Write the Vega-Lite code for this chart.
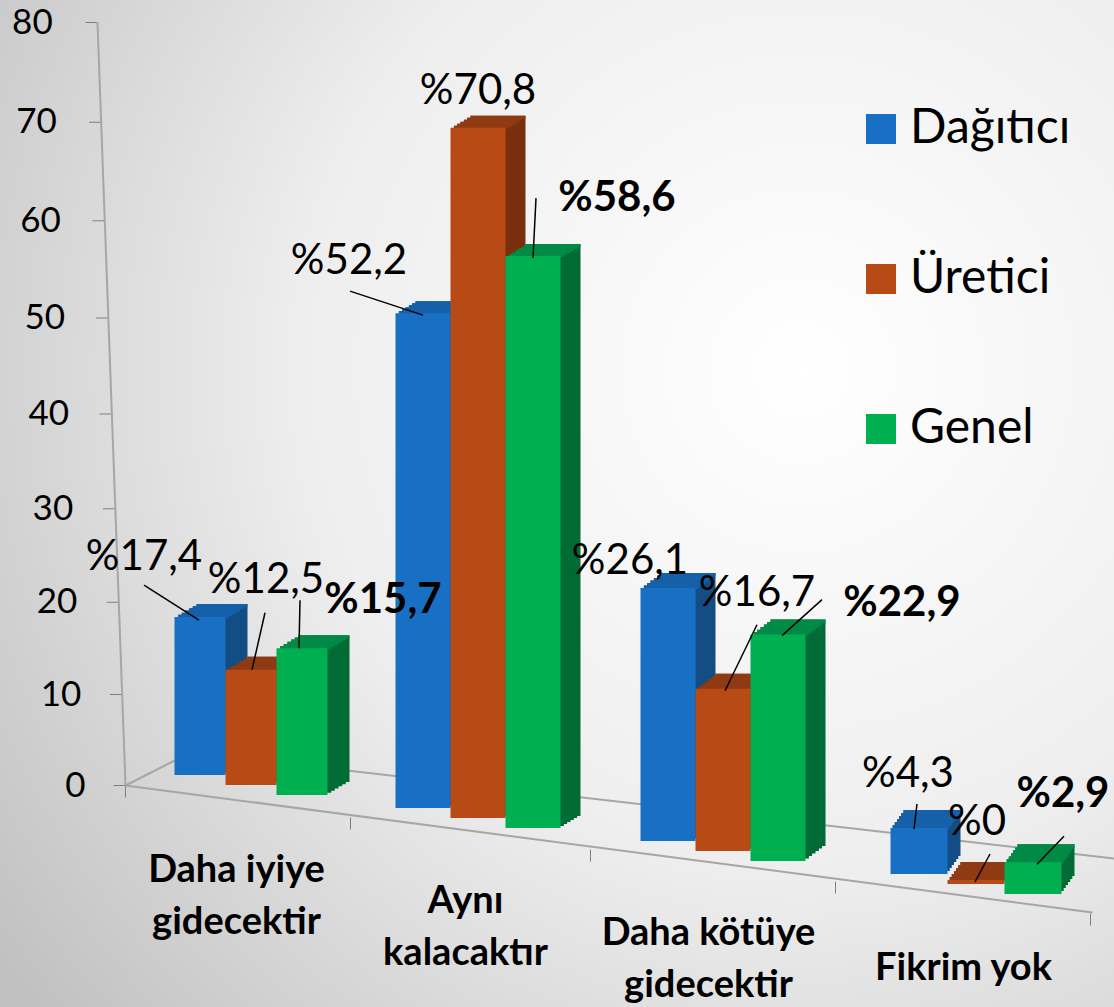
{
"$schema":"https://vega.github.io/schema/vega-lite/v6.json",
"width":1114,"height":1007,"autosize":"none","padding":0,
"background":"#d8d8d8",
"config":{"font":"Lato","view":{"stroke":null,"fill":{"gradient":"radial","x1":0.72,"y1":0.38,"r1":0,"x2":0.72,"y2":0.38,"r2":0.9,"stops":[{"offset":0,"color":"#ffffff"},{"offset":0.5,"color":"#eeeeee"},{"offset":1,"color":"#c0c0c0"}]}}},
"params":[{"name":"o","expr":"{'%17,4':[-56,-52,-56,-24,-1,11,8],'%12,5':[15,-86,14,-53,1,4,4],'%15,7':[81,-45,-2,-45,-3,3,3],'%52,2':[-74,-49,-73,-19,0,5,3],'%70,8':[0,-52,0,0,0,0,-15],'%58,6':[84,-71,3,-71,0,-11,-13],'%26,1':[-38,-31,0,0,0,0,-4],'%16,7':[34,-99,34,-67,2,-1,-3],'%22,9':[124,-40,44,-43,4,-7,-8],'%4,3':[-11,-59,-2,-29,-5,-4,-5],'%0':[1,-62,14,-30,-1,-2,-4],'%2,9':[30,-72,31,-30,4,-2,-4]}"}],
"data":{"values":[
{"kategori":"Daha iyiye gidecektir","seri":"Dağıtıcı","deger":17.4,"etiket":"%17,4"},
{"kategori":"Daha iyiye gidecektir","seri":"Üretici","deger":12.5,"etiket":"%12,5"},
{"kategori":"Daha iyiye gidecektir","seri":"Genel","deger":15.7,"etiket":"%15,7"},
{"kategori":"Aynı kalacaktır","seri":"Dağıtıcı","deger":52.2,"etiket":"%52,2"},
{"kategori":"Aynı kalacaktır","seri":"Üretici","deger":70.8,"etiket":"%70,8"},
{"kategori":"Aynı kalacaktır","seri":"Genel","deger":58.6,"etiket":"%58,6"},
{"kategori":"Daha kötüye gidecektir","seri":"Dağıtıcı","deger":26.1,"etiket":"%26,1"},
{"kategori":"Daha kötüye gidecektir","seri":"Üretici","deger":16.7,"etiket":"%16,7"},
{"kategori":"Daha kötüye gidecektir","seri":"Genel","deger":22.9,"etiket":"%22,9"},
{"kategori":"Fikrim yok","seri":"Dağıtıcı","deger":4.3,"etiket":"%4,3"},
{"kategori":"Fikrim yok","seri":"Üretici","deger":0,"etiket":"%0"},
{"kategori":"Fikrim yok","seri":"Genel","deger":2.9,"etiket":"%2,9"}
]},
"transform":[
{"calculate":"indexof(['Dağıtıcı','Üretici','Genel'],datum.seri)","as":"si"},
{"calculate":"indexof(['Daha iyiye gidecektir','Aynı kalacaktır','Daha kötüye gidecektir','Fikrim yok'],datum.kategori)","as":"ci"},
{"calculate":"datum.ci*33+datum.si*10-10","as":"b"},
{"calculate":"[51,55,55,57][datum.ci]","as":"w"},
{"calculate":"[0,-15,-12,-1][datum.ci]+(datum.si-1)*datum.w","as":"sx"},
{"calculate":"[22,20,20,13][datum.ci]","as":"ddx"},
{"calculate":"[13,12,15,18][datum.ci]","as":"ddy"},
{"calculate":"datum.si==0?'#134d84':datum.si==1?'#7a2f0e':'#006b35'","as":"koyu"},
{"calculate":"datum.si==0?'#1560a8':datum.si==1?'#8f3a12':'#008a45'","as":"tepe"}
],
"encoding":{
"x":{"field":"kategori","type":"nominal","sort":["Daha iyiye gidecektir","Aynı kalacaktır","Daha kötüye gidecektir","Fikrim yok"],"title":null,
"scale":{"range":[130,1098],"paddingInner":0.34,"paddingOuter":0.17},
"axis":{"orient":"bottom","offset":-222,"labelAngle":0,"tickBand":"extent","tickSize":12,"tickColor":"#7f7f7f","domainColor":"#a6a6a6","domainWidth":2,"grid":true,"gridColor":"#a6a6a6","gridWidth":2,"labelFontSize":38,"labelFontWeight":"bold","labelColor":"#000000","labelPadding":54,"labelLimit":400,"labelOverlap":false,"labelLineHeight":52,"labelBaseline":"top",
"labelExpr":"{'Daha iyiye gidecektir':['Daha iyiye','gidecektir'],'Aynı kalacaktır':['Aynı','kalacaktır'],'Daha kötüye gidecektir':['Daha kötüye','gidecektir'],'Fikrim yok':['Fikrim yok']}[datum.label]",
"encoding":{
"domain":{"y2":{"value":127},"x":{"value":125},"x2":{"value":1092}},
"grid":{"x":{"value":{"expr":"datum.index==0?125:190"}},"x2":{"value":{"expr":"datum.index==0?190:1114"}},"y":{"value":{"expr":"datum.index==0?0:-33"}},"y2":{"value":{"expr":"datum.index==0?-33:73"}},"strokeOpacity":{"value":{"expr":"(datum.index==0||abs(datum.index-1/3)<0.01)?1:0"}}},
"ticks":{"x":{"value":{"expr":"[125,350,590,835,1090][datum.index<0?4:round(datum.index*3)]"}},"y":{"value":{"expr":"(datum.index<0?4:datum.index*3)*32"}},"y2":{"value":{"expr":"(datum.index<0?4:datum.index*3)*32+12"}}},
"labels":{"dy":{"value":{"expr":"[0,31,63,98][round(datum.index*3)]"}},"dx":{"value":{"expr":"[-15,-28,-27,-14][round(datum.index*3)]"}}}
}}},
"y":{"field":"deger","type":"quantitative","title":null,"stack":null,
"scale":{"domain":[0,80],"range":[785,22],"nice":false},
"axis":{"orient":"left","offset":-125,"values":[0,10,20,30,40,50,60,70,80],"grid":false,"tickSize":12,"tickColor":"#7f7f7f","domainColor":"#a6a6a6","domainWidth":2,"labelFontSize":35,"labelColor":"#000000","labelPadding":28,"labelOverlap":false,"labelFlush":false,
"encoding":{
"domain":{"x2":{"value":-28}},
"ticks":{"x":{"value":{"expr":"-datum.value*0.35"}},"x2":{"value":{"expr":"-datum.value*0.35-12"}},"y":{"value":{"expr":"scale('y',datum.value)+datum.value*(80-datum.value)*0.00625"}}},
"labels":{"dx":{"value":{"expr":"-datum.value*0.41"}},"dy":{"value":{"expr":"datum.value*(80-datum.value)*0.00625"}}}
}}}
},
"layer":[
{"mark":{"type":"bar","fill":{"expr":"datum.koyu"},"width":{"expr":"datum.w"},"xOffset":{"expr":"datum.sx+datum.ddx"},"yOffset":{"expr":"datum.b+o[datum.etiket][6]-datum.ddy"},"y2Offset":{"expr":"datum.b-datum.ddy"}},"encoding":{"y2":{"datum":0}}},
{"mark":{"type":"bar","fill":{"expr":"datum.koyu"},"width":{"expr":"datum.w"},"xOffset":{"expr":"datum.sx+datum.ddx*0.83"},"yOffset":{"expr":"datum.b+o[datum.etiket][6]-datum.ddy*0.83"},"y2Offset":{"expr":"datum.b-datum.ddy*0.83"}},"encoding":{"y2":{"datum":0}}},
{"mark":{"type":"bar","fill":{"expr":"datum.koyu"},"width":{"expr":"datum.w"},"xOffset":{"expr":"datum.sx+datum.ddx*0.67"},"yOffset":{"expr":"datum.b+o[datum.etiket][6]-datum.ddy*0.67"},"y2Offset":{"expr":"datum.b-datum.ddy*0.67"}},"encoding":{"y2":{"datum":0}}},
{"mark":{"type":"bar","fill":{"expr":"datum.koyu"},"width":{"expr":"datum.w"},"xOffset":{"expr":"datum.sx+datum.ddx*0.5"},"yOffset":{"expr":"datum.b+o[datum.etiket][6]-datum.ddy*0.5"},"y2Offset":{"expr":"datum.b-datum.ddy*0.5"}},"encoding":{"y2":{"datum":0}}},
{"mark":{"type":"bar","fill":{"expr":"datum.koyu"},"width":{"expr":"datum.w"},"xOffset":{"expr":"datum.sx+datum.ddx*0.33"},"yOffset":{"expr":"datum.b+o[datum.etiket][6]-datum.ddy*0.33"},"y2Offset":{"expr":"datum.b-datum.ddy*0.33"}},"encoding":{"y2":{"datum":0}}},
{"mark":{"type":"bar","fill":{"expr":"datum.koyu"},"width":{"expr":"datum.w"},"xOffset":{"expr":"datum.sx+datum.ddx*0.17"},"yOffset":{"expr":"datum.b+o[datum.etiket][6]-datum.ddy*0.17"},"y2Offset":{"expr":"datum.b-datum.ddy*0.17"}},"encoding":{"y2":{"datum":0}}},
{"mark":{"type":"bar","fill":{"expr":"datum.tepe"},"width":{"expr":"datum.w"},"xOffset":{"expr":"datum.sx+datum.ddx"},"yOffset":{"expr":"datum.b+o[datum.etiket][6]-datum.ddy"},"y2Offset":{"expr":"datum.b+o[datum.etiket][6]-datum.ddy*0.83+1"}},"encoding":{"y2":{"field":"deger"}}},
{"mark":{"type":"bar","fill":{"expr":"datum.tepe"},"width":{"expr":"datum.w"},"xOffset":{"expr":"datum.sx+datum.ddx*0.83"},"yOffset":{"expr":"datum.b+o[datum.etiket][6]-datum.ddy*0.83"},"y2Offset":{"expr":"datum.b+o[datum.etiket][6]-datum.ddy*0.67+1"}},"encoding":{"y2":{"field":"deger"}}},
{"mark":{"type":"bar","fill":{"expr":"datum.tepe"},"width":{"expr":"datum.w"},"xOffset":{"expr":"datum.sx+datum.ddx*0.67"},"yOffset":{"expr":"datum.b+o[datum.etiket][6]-datum.ddy*0.67"},"y2Offset":{"expr":"datum.b+o[datum.etiket][6]-datum.ddy*0.5+1"}},"encoding":{"y2":{"field":"deger"}}},
{"mark":{"type":"bar","fill":{"expr":"datum.tepe"},"width":{"expr":"datum.w"},"xOffset":{"expr":"datum.sx+datum.ddx*0.5"},"yOffset":{"expr":"datum.b+o[datum.etiket][6]-datum.ddy*0.5"},"y2Offset":{"expr":"datum.b+o[datum.etiket][6]-datum.ddy*0.33+1"}},"encoding":{"y2":{"field":"deger"}}},
{"mark":{"type":"bar","fill":{"expr":"datum.tepe"},"width":{"expr":"datum.w"},"xOffset":{"expr":"datum.sx+datum.ddx*0.33"},"yOffset":{"expr":"datum.b+o[datum.etiket][6]-datum.ddy*0.33"},"y2Offset":{"expr":"datum.b+o[datum.etiket][6]-datum.ddy*0.17+1"}},"encoding":{"y2":{"field":"deger"}}},
{"mark":{"type":"bar","fill":{"expr":"datum.tepe"},"width":{"expr":"datum.w"},"xOffset":{"expr":"datum.sx+datum.ddx*0.17"},"yOffset":{"expr":"datum.b+o[datum.etiket][6]-datum.ddy*0.17"},"y2Offset":{"expr":"datum.b+o[datum.etiket][6]+1"}},"encoding":{"y2":{"field":"deger"}}},
{"mark":{"type":"bar","width":{"expr":"datum.w"},"xOffset":{"expr":"datum.sx"},"yOffset":{"expr":"datum.b+o[datum.etiket][6]"},"y2Offset":{"expr":"datum.b"}},"encoding":{"y2":{"datum":0},
"color":{"field":"seri","type":"nominal","sort":["Dağıtıcı","Üretici","Genel"],"scale":{"domain":["Dağıtıcı","Üretici","Genel"],"range":["#1870c5","#b84a16","#00b050"]},
"legend":{"title":null,"orient":"none","legendX":857,"legendY":105,"symbolType":"square","symbolSize":900,"symbolStrokeWidth":0,"symbolOpacity":1,"labelFontSize":48,"labelColor":"#000000","labelOffset":5,"rowPadding":102,"labelLimit":300}}}},
{"transform":[{"filter":"datum.etiket!='%70,8' && datum.etiket!='%26,1'"}],
"mark":{"type":"rule","color":"#000000","strokeWidth":1.5,"xOffset":{"expr":"datum.sx+o[datum.etiket][2]"},"x2Offset":{"expr":"datum.sx+o[datum.etiket][4]"},"yOffset":{"expr":"datum.b+o[datum.etiket][3]"},"y2Offset":{"expr":"datum.b+o[datum.etiket][5]"}},
"encoding":{"x2":{"field":"kategori"},"y2":{"field":"deger"}}},
{"mark":{"type":"text","fontSize":42,"color":"#000000","baseline":"middle","align":"center","fontWeight":{"expr":"datum.si==2?'bold':'normal'"},"dx":{"expr":"datum.sx+o[datum.etiket][0]"},"dy":{"expr":"datum.b+o[datum.etiket][1]"}},
"encoding":{"text":{"field":"etiket"}}}
]
}
